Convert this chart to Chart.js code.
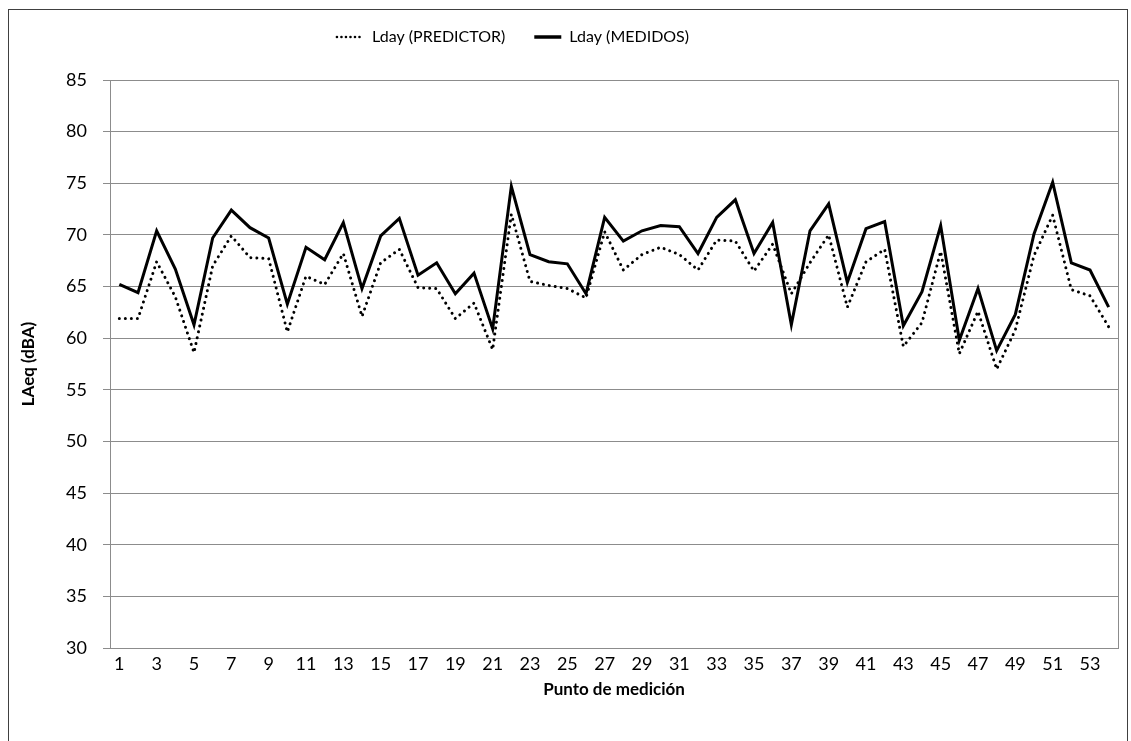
<!DOCTYPE html>
<html>
<head>
<meta charset="utf-8">
<title>Lday predictor vs medidos</title>
<script src="https://cdn.jsdelivr.net/npm/chart.js@4.4.1/dist/chart.umd.min.js"></script>
<style>
    html, body { margin: 0; padding: 0; background: #ffffff; }
    #chart { display: block; }
</style>
</head>
<body>
<canvas id="chart" width="1131" height="741"></canvas>
<script>
// Puntos de medición (eje X)
const puntos = [1, 2, 3, 4, 5, 6, 7, 8, 9, 10, 11, 12, 13, 14, 15, 16, 17, 18,
    19, 20, 21, 22, 23, 24, 25, 26, 27, 28, 29, 30, 31, 32, 33, 34, 35, 36,
    37, 38, 39, 40, 41, 42, 43, 44, 45, 46, 47, 48, 49, 50, 51, 52, 53, 54];

// Lday calculado con el predictor (línea punteada)
const ldayPredictor = [61.9, 61.9, 67.4, 64.0, 58.6, 67.0, 69.9, 67.8, 67.7, 60.6,
    66.0, 65.2, 68.2, 62.1, 67.3, 68.6, 64.9, 64.8, 61.9, 63.4,
    58.9, 72.0, 65.5, 65.1, 64.8, 63.9, 70.3, 66.6, 68.1, 68.8,
    68.1, 66.6, 69.5, 69.4, 66.5, 69.1, 64.3, 67.3, 70.0, 63.0,
    67.4, 68.6, 59.2, 61.5, 68.4, 58.5, 62.6, 57.0, 60.8, 68.0,
    71.9, 64.7, 64.1, 61.1];

// Lday medido (línea continua)
const ldayMedidos = [65.2, 64.4, 70.4, 66.7, 61.3, 69.7, 72.4, 70.7, 69.7, 63.3,
    68.8, 67.6, 71.2, 64.8, 69.9, 71.6, 66.1, 67.3, 64.3, 66.3,
    60.9, 74.7, 68.1, 67.4, 67.2, 64.3, 71.7, 69.4, 70.4, 70.9,
    70.8, 68.2, 71.7, 73.4, 68.2, 71.2, 61.3, 70.4, 73.0, 65.4,
    70.6, 71.3, 61.2, 64.5, 70.9, 59.8, 64.8, 58.8, 62.3, 70.1,
    75.1, 67.3, 66.6, 63.0];

const yMin = 30;
const yMax = 85;
const yStep = 5;

const FONT = 'Lato, "Open Sans", sans-serif';
const GRID = '#8c8c8c';

// Marco exterior del gráfico (estilo Excel)
const outerFrame = {
    id: 'outerFrame',
    beforeDraw(chart) {
        const ctx = chart.ctx;
        ctx.save();
        ctx.fillStyle = '#ffffff';
        ctx.fillRect(0, 0, chart.width, chart.height);
        ctx.strokeStyle = '#404040';
        ctx.lineWidth = 1;
        ctx.strokeRect(8.5, 9.5, 1119, 760);
        ctx.restore();
    }
};

// Borde gris del área de trazado
const plotFrame = {
    id: 'plotFrame',
    beforeDatasetsDraw(chart) {
        const a = chart.chartArea;
        const ctx = chart.ctx;
        ctx.save();
        ctx.strokeStyle = GRID;
        ctx.lineWidth = 1;
        ctx.strokeRect(Math.round(a.left) + 0.5, Math.round(a.top) + 0.5,
            Math.round(a.right - a.left), Math.round(a.bottom - a.top));
        ctx.restore();
    }
};

// Altura fija de la leyenda y desplazamiento a la izquierda (como en el original)
const legendPlacement = {
    id: 'legendPlacement',
    beforeInit(chart) {
        const fit = chart.legend.fit;
        chart.legend.fit = function() {
            fit.bind(chart.legend)();
            this.height = 80;
        };
    },
    afterLayout(chart) {
        chart.legend.right = 1026;
    }
};

new Chart(document.getElementById('chart').getContext('2d'), {
    type: 'line',
    data: {
        labels: puntos,
        datasets: [
            {
                label: 'Lday (PREDICTOR)',
                data: ldayPredictor,
                borderColor: '#000000',
                backgroundColor: '#000000',
                borderWidth: 3,
                borderDash: [0.01, 6],
                borderCapStyle: 'round',
                pointRadius: 0,
                pointStyle: 'line',
                tension: 0,
                fill: false
            },
            {
                label: 'Lday (MEDIDOS)',
                data: ldayMedidos,
                borderColor: '#000000',
                backgroundColor: '#000000',
                borderWidth: 3,
                borderJoinStyle: 'miter',
                pointRadius: 0,
                pointStyle: 'line',
                tension: 0,
                fill: false
            }
        ]
    },
    options: {
        responsive: false,
        animation: false,
        layout: { padding: { left: 0, right: 13, top: 0, bottom: 0 } },
        plugins: {
            legend: {
                display: true,
                position: 'top',
                labels: {
                    usePointStyle: true,
                    pointStyleWidth: 27,
                    padding: 29,
                    color: '#000000',
                    font: { family: FONT, size: 16 },
                    generateLabels: function(chart) {
                        // el estilo de punto no trae el trazo punteado: se copia del dataset
                        const items = Chart.defaults.plugins.legend.labels.generateLabels(chart);
                        items.forEach(function(item) {
                            const ds = chart.data.datasets[item.datasetIndex];
                            item.lineDash = ds.borderDash ? [0.01, 4.5] : [];
                            item.lineCap = ds.borderDash ? 'round' : 'butt';
                            item.lineWidth = ds.borderDash ? 2.6 : 3.5;
                            item.strokeStyle = '#000000';
                        });
                        return items;
                    }
                }
            },
            tooltip: { enabled: false }
        },
        scales: {
            x: {
                type: 'category',
                offset: true,
                grid: { display: false, drawTicks: false },
                border: { display: false },
                ticks: {
                    autoSkip: false,
                    maxRotation: 0,
                    minRotation: 0,
                    padding: 5,
                    color: '#000000',
                    font: { family: FONT, size: 18 },
                    callback: function(value, index) {
                        return index % 2 === 0 ? puntos[index] : '';
                    }
                },
                title: {
                    display: true,
                    text: 'Punto de medición',
                    color: '#000000',
                    font: { family: FONT, size: 17, weight: 'bold' },
                    padding: { top: 0, bottom: 41 }
                },
                afterFit: function(scale) { scale.height = 93; }
            },
            y: {
                min: yMin,
                max: yMax,
                grid: {
                    color: GRID,
                    lineWidth: 1,
                    drawTicks: true,
                    tickLength: 7
                },
                border: { display: false },
                ticks: {
                    stepSize: yStep,
                    padding: 16,
                    color: '#000000',
                    font: { family: FONT, size: 18 }
                },
                title: {
                    display: true,
                    text: 'LAeq (dBA)',
                    color: '#000000',
                    font: { family: FONT, size: 17, weight: 'bold' },
                    padding: { top: 18, bottom: 0 }
                },
                afterFit: function(scale) { scale.width = 110; }
            }
        }
    },
    plugins: [outerFrame, plotFrame, legendPlacement]
});
</script>
</body>
</html>
